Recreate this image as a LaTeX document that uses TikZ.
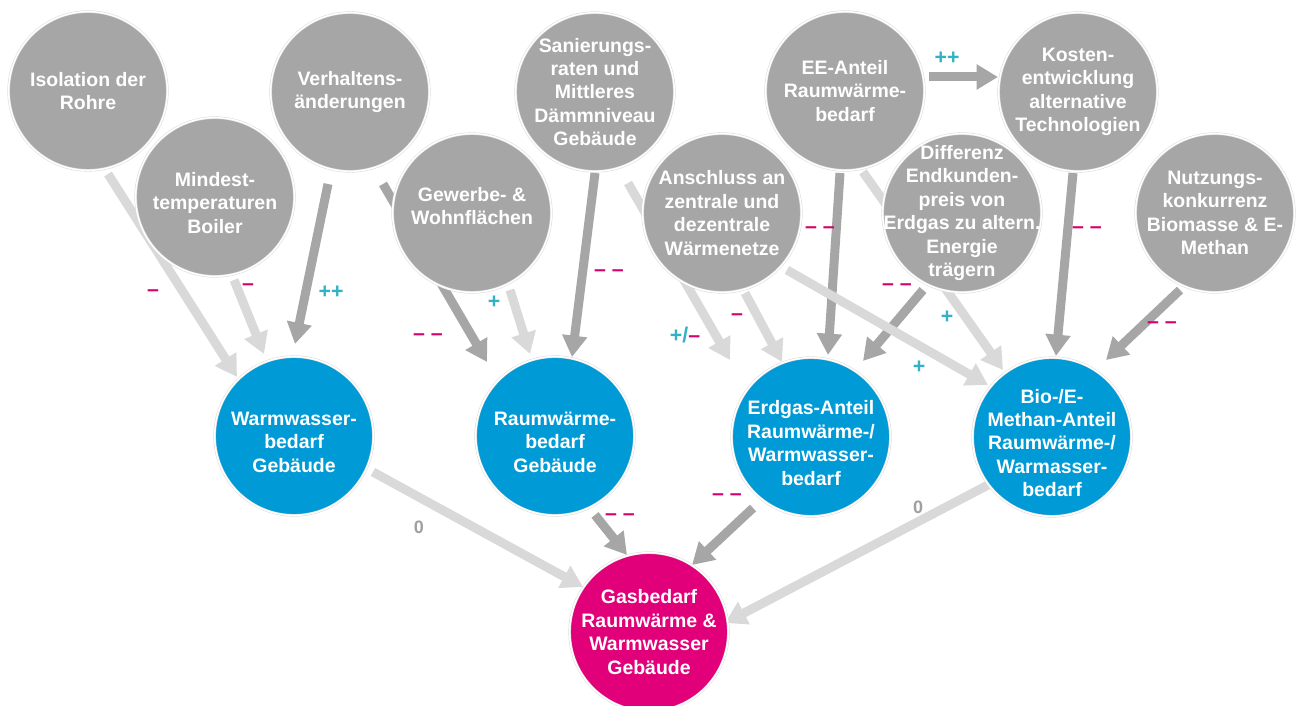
\documentclass[tikz,border=0pt]{standalone}
\usepackage{fontspec}
\setmainfont{Liberation Sans}
\usetikzlibrary{arrows.meta,calc}

\definecolor{bubblegray}{RGB}{166,166,166}
\definecolor{weakgray}{RGB}{217,217,217}
\definecolor{targetblue}{RGB}{0,155,214}
\definecolor{resultpink}{RGB}{226,0,122}
\definecolor{negmag}{RGB}{214,0,112}
\definecolor{poscyan}{RGB}{50,178,196}
\definecolor{zerogray}{RGB}{160,160,160}

\pgfdeclarelayer{paper}
\pgfdeclarelayer{arrowlayer}
\pgfsetlayers{paper,arrowlayer,main}

% an empty spacer line that pushes a bubble's text down a little
\newcommand{\lowertext}{\mbox{}\\[2pt]}

\tikzset{
  bubble/.style={circle, minimum size=119pt, inner sep=-30pt, draw=black!14,
    line width=0.4pt, double=white, double distance=1.1pt, text=white,
    font=\bfseries\fontsize{14.6}{17.6}\selectfont, align=center},
  factor/.style={bubble, fill=bubblegray},
  targetbubble/.style={bubble, fill=targetblue},
  resultbubble/.style={bubble, fill=resultpink},
  link/.style={line width=6.75pt, -{Triangle[width=18pt,length=16pt]}},
  strong/.style={link, draw=bubblegray},
  weak/.style={link, draw=weakgray},
  signlabel/.style={font=\bfseries\fontsize{16}{16}\selectfont, inner sep=0pt},
  negsign/.style={signlabel, text=negmag},
  possign/.style={signlabel, text=poscyan},
  zerosign/.style={font=\bfseries\fontsize{13.5}{13.5}\selectfont, text=zerogray, inner sep=0pt},
}

\begin{document}
\begin{tikzpicture}[x=0.75pt, y=-0.75pt]
\begin{pgfonlayer}{paper}
\fill[white] (0,0) rectangle (1296,706);
\end{pgfonlayer}
\useasboundingbox (0,0) rectangle (1296,706);

% bubbles
\node[factor] (isol) at (88,91)  {Isolation der\\Rohre};
\node[factor] (mind) at (215,197) {\lowertext Mindest-\\temperaturen\\Boiler};
\node[factor] (verh) at (350,92) {Verhaltens-\\änderungen};
\node[factor] (gew)  at (472,213) {Gewerbe- \&\\Wohnflächen\\[-7pt]\mbox{}};
\node[factor] (san)  at (595,92) {Sanierungs-\\raten und\\Mittleres\\Dämmniveau\\Gebäude};
\node[factor] (ans)  at (722,213) {Anschluss an\\zentrale und\\dezentrale\\Wärmenetze};
\node[factor] (ee)   at (845,91) {EE-Anteil\\Raumwärme-\\bedarf};
\node[factor] (kost) at (1078,92) {Kosten-\\entwicklung\\alternative\\Technologien};
\node[factor] (diff) at (962,213) {Differenz\\Endkunden-\\preis von\\Erdgas zu altern.\\Energie\\trägern};
\node[factor] (nutz) at (1215,213) {Nutzungs-\\konkurrenz\\Biomasse \& E-\\Methan};
\node[targetbubble] (ww)  at (294,436) {\lowertext Warmwasser-\\bedarf\\Gebäude};
\node[targetbubble] (rw)  at (555,436) {\lowertext Raumwärme-\\bedarf\\Gebäude};
\node[targetbubble] (eg)  at (811,437) {\lowertext Erdgas-Anteil\\Raumwärme-/\\Warmwasser-\\bedarf};
\node[targetbubble] (bio) at (1052,437) {\lowertext Bio-/E-\\Methan-Anteil\\Raumwärme-/\\Warmasser-\\bedarf};
\node[resultbubble] (gas) at (649,632) {Gasbedarf\\Raumwärme \&\\Warmwasser\\Gebäude};

% arrows run behind the bubbles
\begin{pgfonlayer}{arrowlayer}
% into Warmwasserbedarf
\draw[weak]   ($(isol)+(20,83)$)  -- ($(ww)+(-57,-59)$);
\draw[weak]   ($(mind)+(19,83)$)  -- ($(ww)+(-30,-82)$);
\draw[strong] ($(verh)+(-22,92)$) -- ($(ww)+(1,-92)$);
% into Raumwaermebedarf
\draw[strong] ($(verh)+(33,92)$)  -- ($(rw)+(-68,-74)$);
\draw[weak]   ($(gew)+(38,77)$)   -- ($(rw)+(-25,-82)$);
\draw[strong] ($(san)+(0,81)$)    -- ($(rw)+(17,-79)$);
% into Erdgas-Anteil
\draw[weak]   ($(san)+(33,91)$)   -- ($(eg)+(-81,-77)$);
\draw[weak]   ($(ans)+(23,80)$)   -- ($(eg)+(-29,-75)$);
\draw[strong] ($(ee)+(-5,82)$)    -- ($(eg)+(17,-82)$);
\draw[strong] ($(diff)+(-39,77)$) -- ($(eg)+(52,-76)$);
% into Bio-/E-Methan-Anteil
\draw[weak]   ($(ans)+(65,57)$)   -- ($(bio)+(-64,-52)$);
\draw[weak]   ($(ee)+(18,81)$)    -- ($(bio)+(-49,-67)$);
\draw[strong] ($(kost)+(-5,81)$)  -- ($(bio)+(4,-81)$);
\draw[strong] ($(nutz)+(-35,77)$) -- ($(bio)+(54,-77)$);
% EE-Anteil drives cost development
\draw[strong] ($(ee)+(84,-14)$)   -- ($(kost)+(-80,-15)$);
% into Gasbedarf
\draw[weak]   ($(ww)+(79,36)$)    -- ($(gas)+(-66,-45)$);
\draw[strong] ($(rw)+(40,79)$)    -- ($(gas)+(-22,-77)$);
\draw[strong] ($(eg)+(-58,71)$)   -- ($(gas)+(43,-67)$);
\draw[weak]   ($(bio)+(-64,48)$)  -- ($(gas)+(76,-9)$);
\end{pgfonlayer}

% effect signs
\node[negsign] (s1)  at (153,293) {–};
\node[negsign] (s2)  at (248,287) {–};
\node[possign] (s3)  at (331,292) {++};
\node[negsign] (s4)  at (428,337) {– –};
\node[possign] (s5)  at (494,302) {+};
\node[negsign] (s6)  at (609,273) {– –};
\node[signlabel] (s7) at (685,335) {\textcolor{poscyan}{+/}\textcolor{negmag}{–}};
\node[negsign] (s8)  at (737,317) {–};
\node[possign] (s9)  at (919,367) {+};
\node[negsign] (s10) at (820,230) {– –};
\node[possign] (s11) at (947,317) {+};
\node[negsign] (s12) at (897,287) {– –};
\node[negsign] (s13) at (1087,230) {– –};
\node[negsign] (s14) at (1162,325) {– –};
\node[possign] (s15) at (947,58) {++};
\node[zerosign] (s16) at (419,527) {0};
\node[negsign] (s17) at (620,517) {– –};
\node[negsign] (s18) at (727,497) {– –};
\node[zerosign] (s19) at (918,507) {0};
\end{tikzpicture}
\end{document}
